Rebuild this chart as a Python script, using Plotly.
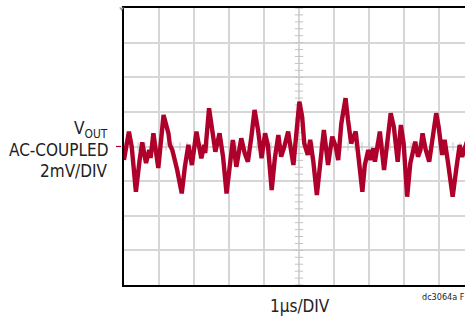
import numpy as np
import plotly.graph_objects as go

# Data (time in µs, VOUT in mV, AC-coupled)
time_us = [0.00, 0.14, 0.22, 0.34, 0.44, 0.52, 0.60, 0.63, 0.72, 0.76, 0.84, 0.91, 0.98,
           1.13, 1.19, 1.27, 1.31, 1.38, 1.52, 1.65, 1.74, 1.84, 1.94, 2.07, 2.13, 2.21,
           2.29, 2.32, 2.43, 2.51, 2.61, 2.73, 2.83, 2.93, 3.02, 3.11, 3.21, 3.35, 3.45,
           3.54, 3.64, 3.73, 3.83, 3.87, 3.93, 4.03, 4.11, 4.22, 4.31, 4.41, 4.49, 4.58,
           4.69, 4.77, 4.84, 5.01, 5.09, 5.15, 5.25, 5.32, 5.41, 5.51, 5.61, 5.71, 5.83,
           5.95, 6.05, 6.12, 6.21, 6.33, 6.40, 6.49, 6.62, 6.69, 6.81, 6.88, 6.98, 7.05,
           7.12, 7.17, 7.26, 7.31, 7.43, 7.52, 7.62, 7.71, 7.77, 7.82, 7.91, 7.99, 8.09,
           8.18, 8.32, 8.40, 8.47, 8.53, 8.61, 8.72, 8.92, 8.99, 9.09, 9.16, 9.26, 9.39,
           9.49, 9.59, 9.66, 9.73, 9.85, 10.0]
vout_mV = [-0.78, 0.86, -0.01, -2.61, -0.88, 0.24, -0.66, -0.95, -0.20, -0.66, 0.76, -0.20, -1.24,
           1.82, 1.36, 0.76, 0.09, -0.20, -1.36, -2.71, -1.17, 0.09, -1.07, 0.86, 0.18, -0.68,
           0.09, -0.38, 2.21, 1.14, -0.30, 0.76, -0.59, -2.71, -1.26, 0.38, -1.17, 0.47, -0.39,
           -0.88, 0.57, 2.11, 0.95, 0.09, -0.68, 0.76, 0.09, -2.51, -0.68, 0.66, -0.59, -0.01,
           0.86, -0.20, -1.07, 2.59, 1.72, 0.18, -0.49, 0.38, -0.88, -2.80, -0.88, 0.95, -1.07,
           0.57, -0.01, -0.78, 1.34, 2.79, 1.53, 0.18, 0.86, -0.39, -2.61, -1.07, -0.20, -0.78,
           -0.10, -0.88, 0.09, 0.86, -1.36, 0.47, 1.92, 1.14, -0.20, -0.88, 1.24, 0.18, -2.90,
           -0.97, 0.28, -0.59, -0.20, 0.76, -0.10, -0.88, 1.92, 1.14, -0.49, 0.38, -0.97, -2.90,
           -1.36, 0.09, -0.59, -0.10, 0.60, -0.40]

y_label_lines = ["V<sub>OUT</sub>", "AC-COUPLED", "2mV/DIV"]
x_label = "1µs/DIV"
figure_id = "dc3064a F"

TRACE = "#AE002B"
GRID = "#D6D6D6"
FONT = "Liberation Sans Narrow, DejaVu Sans Condensed, Arial Narrow, sans-serif"

fig = go.Figure()

# center crosshair minor ticks (graticule decoration)
minor_x = np.arange(0, 10.01, 0.2)
minor_y = np.arange(-8, 8.01, 0.4)
fig.add_trace(go.Scatter(x=minor_x, y=[0] * len(minor_x), mode="markers",
                         marker=dict(symbol="line-ns", size=6, line=dict(color="#C4C4C4", width=1)),
                         hoverinfo="skip", showlegend=False))
fig.add_trace(go.Scatter(x=[5] * len(minor_y), y=minor_y, mode="markers",
                         marker=dict(symbol="line-ew", size=6, line=dict(color="#C4C4C4", width=1)),
                         hoverinfo="skip", showlegend=False))

fig.add_trace(go.Scatter(x=time_us, y=vout_mV, mode="lines",
                         line=dict(color=TRACE, width=4.4, shape="linear"),
                         showlegend=False))

W, H = 465, 316
L, T, B, R = 124, 8, 31, 0
pw = W - L - R
ph = H - T - B

fig.update_layout(
    width=W, height=H,
    margin=dict(l=L, r=R, t=T, b=B, pad=0),
    paper_bgcolor="white", plot_bgcolor="white",
    font=dict(family=FONT, color="#222222"),
    xaxis=dict(range=[0, pw / 35.0], dtick=1, tick0=0, showticklabels=False, ticks="",
               showgrid=True, gridcolor=GRID, gridwidth=1.5, zeroline=False,
               showline=True, linecolor="black", linewidth=2, mirror=True),
    yaxis=dict(range=[-8, 8], dtick=2, tick0=0, showticklabels=False, ticks="",
               showgrid=True, gridcolor=GRID, gridwidth=1.5, zeroline=False,
               showline=True, linecolor="black", linewidth=2, mirror=False),
)

def py(ypix):
    return (H - B - ypix) / ph

def px(xpix):
    return (xpix - L) / pw

label_y = [129.0, 150, 171]
for txt, yy in zip(y_label_lines, label_y):
    fig.add_annotation(text=txt, xref="paper", yref="paper", x=px(110), y=py(yy),
                       xanchor="right", yanchor="middle", showarrow=False,
                       font=dict(size=17, family=FONT, color="#222222"))

fig.add_annotation(text=x_label, xref="paper", yref="paper", x=px(300), y=py(306),
                   xanchor="center", yanchor="middle", showarrow=False,
                   font=dict(size=17, family=FONT, color="#222222"))
fig.add_annotation(text=figure_id, xref="paper", yref="paper", x=px(420), y=py(297),
                   xanchor="left", yanchor="middle", showarrow=False,
                   font=dict(size=9, family=FONT, color="#222222"))

# ground marker (red tick left of axis) and trigger marker (grey triangle)
fig.add_shape(type="line", xref="paper", yref="y", x0=px(116), x1=px(121), y0=0, y1=0,
              line=dict(color=TRACE, width=1.2))
fig.add_shape(type="path", xref="paper", yref="paper",
              path=f"M {px(119)} {py(7.5)} L {px(124)} {py(7.5)} L {px(121.5)} {py(11)} Z",
              fillcolor="#A0A0A0", line=dict(width=0))

fig.write_html("out.html", config={"displayModeBar": False},
               post_script="document.body.style.margin='0';document.body.style.overflow='hidden';")
